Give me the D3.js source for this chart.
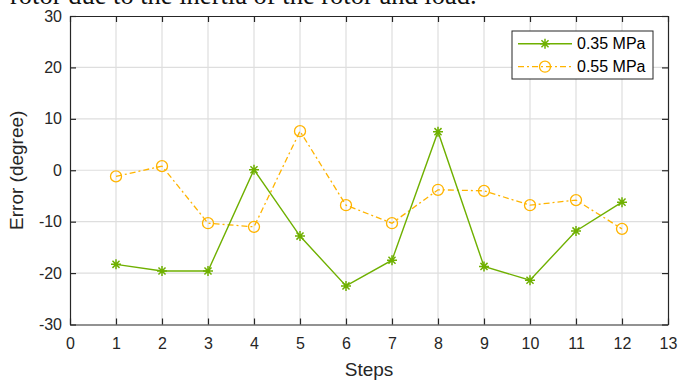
<!DOCTYPE html>
<html>
<head>
<meta charset="utf-8">
<script src="https://cdn.jsdelivr.net/npm/d3@7"></script>
<style>
  body { margin: 0; background: #fff; }
  svg { display: block; }
</style>
</head>
<body>
<svg id="chart" width="678" height="380"></svg>
<script>
  // data
  var steps = [1, 2, 3, 4, 5, 6, 7, 8, 9, 10, 11, 12];
  var err035 = [-18.3, -19.6, -19.6, 0.1, -12.8, -22.5, -17.5, 7.5, -18.7, -21.4, -11.8, -6.2];
  var err055 = [-1.2, 0.8, -10.3, -11.0, 7.6, -6.8, -10.3, -3.8, -4.0, -6.8, -5.8, -11.4];
  var xTicks = d3.range(0, 14);
  var yTicks = [-30, -20, -10, 0, 10, 20, 30];
  var seriesNames = ["0.35 MPa", "0.55 MPa"];

  (function () {
    'use strict';

    var green = "#6fb000",
        orange = "#ffb400",
        axisColor = "#262626",
        gridColor = "#dedede";

    var svg = d3.select("#chart");
    var pLeft = 70, pRight = 668, pTop = 16, pBottom = 324.5;

    var x = d3.scaleLinear().domain([0, 13]).range([pLeft, pRight]);
    var y = d3.scaleLinear().domain([-30, 30]).range([pBottom, pTop]);

    // bit of the caption above the figure, cut off in the source
    svg.append("text")
      .attr("x", 10).attr("y", 4)
      .attr("font-family", "Liberation Serif, Times New Roman, serif")
      .attr("font-size", 26.5)
      .attr("fill", "#111")
      .text("rotor due to the inertia of the rotor and load.");

    // grid
    var grid = svg.append("g");
    grid.selectAll(".vg").data(xTicks.slice(1, -1)).enter().append("line")
      .attr("x1", function(d) { return x(d); }).attr("x2", function(d) { return x(d); })
      .attr("y1", pTop).attr("y2", pBottom)
      .attr("stroke", gridColor).attr("stroke-width", 1.2);
    grid.selectAll(".hg").data(yTicks.slice(1, -1)).enter().append("line")
      .attr("y1", function(d) { return y(d); }).attr("y2", function(d) { return y(d); })
      .attr("x1", pLeft).attr("x2", pRight)
      .attr("stroke", gridColor).attr("stroke-width", 1.2);

    // axes, ticks pointing inward
    var plain = function(d) { return String(d); };
    function styleAxis(g) {
      g.select(".domain").attr("stroke", axisColor).attr("stroke-width", 1.2);
      g.selectAll(".tick line").attr("stroke", axisColor).attr("stroke-width", 1.2);
      g.selectAll(".tick text").attr("fill", axisColor)
        .attr("font-family", "Liberation Sans, Arial, sans-serif").attr("font-size", 16);
    }
    svg.append("g").attr("transform", "translate(0," + pBottom + ")")
      .call(d3.axisBottom(x).tickValues(xTicks).tickFormat(plain).tickSize(-6).tickSizeOuter(0).tickPadding(13))
      .call(styleAxis);
    svg.append("g").attr("transform", "translate(0," + pTop + ")")
      .call(d3.axisTop(x).tickValues(xTicks).tickSize(-6).tickSizeOuter(0).tickFormat(""))
      .call(styleAxis);
    svg.append("g").attr("transform", "translate(" + pLeft + ",0)")
      .call(d3.axisLeft(y).tickValues(yTicks).tickFormat(plain).tickSize(-6).tickSizeOuter(0).tickPadding(8))
      .call(styleAxis);
    svg.append("g").attr("transform", "translate(" + pRight + ",0)")
      .call(d3.axisRight(y).tickValues(yTicks).tickSize(-6).tickSizeOuter(0).tickFormat(""))
      .call(styleAxis);

    // axis titles
    svg.append("text")
      .attr("x", (pLeft + pRight) / 2).attr("y", 376)
      .attr("text-anchor", "middle")
      .attr("font-family", "Liberation Sans, Arial, sans-serif").attr("font-size", 19)
      .attr("fill", axisColor).text("Steps");
    svg.append("text")
      .attr("transform", "translate(23," + (pTop + pBottom) / 2 + ") rotate(-90)")
      .attr("text-anchor", "middle")
      .attr("font-family", "Liberation Sans, Arial, sans-serif").attr("font-size", 19)
      .attr("fill", axisColor).text("Error (degree)");

    var line = d3.line()
      .x(function(d) { return x(d[0]); })
      .y(function(d) { return y(d[1]); });

    var pts035 = steps.map(function(s, i) { return [s, err035[i]]; });
    var pts055 = steps.map(function(s, i) { return [s, err055[i]]; });

    function asterisk(g, cx, cy, r, color) {
      var a = r * Math.SQRT1_2;
      var p = "M" + (cx - r) + "," + cy + "L" + (cx + r) + "," + cy +
              "M" + cx + "," + (cy - r) + "L" + cx + "," + (cy + r) +
              "M" + (cx - a) + "," + (cy - a) + "L" + (cx + a) + "," + (cy + a) +
              "M" + (cx - a) + "," + (cy + a) + "L" + (cx + a) + "," + (cy - a);
      g.append("path").attr("d", p).attr("stroke", color).attr("stroke-width", 1.5).attr("fill", "none");
    }

    // 0.55 MPa series
    svg.append("path").datum(pts055).attr("d", line)
      .attr("fill", "none").attr("stroke", orange).attr("stroke-width", 1.3)
      .attr("stroke-dasharray", "6,3,2,3");
    svg.append("g").selectAll("circle").data(pts055).enter().append("circle")
      .attr("cx", function(d) { return x(d[0]); })
      .attr("cy", function(d) { return y(d[1]); })
      .attr("r", 5.5).attr("fill", "none").attr("stroke", orange).attr("stroke-width", 1.3);

    // 0.35 MPa series
    svg.append("path").datum(pts035).attr("d", line)
      .attr("fill", "none").attr("stroke", green).attr("stroke-width", 1.4);
    var gm = svg.append("g");
    pts035.forEach(function(d) { asterisk(gm, x(d[0]), y(d[1]), 5, green); });

    // legend
    var lg = svg.append("g");
    lg.append("rect").attr("x", 512).attr("y", 31).attr("width", 141).attr("height", 48)
      .attr("fill", "#fff").attr("stroke", axisColor).attr("stroke-width", 1);
    var rows = [{ name: seriesNames[0], y: 43.7, color: green, dash: null, mark: "ast" },
                { name: seriesNames[1], y: 66.7, color: orange, dash: "6,3,2,3", mark: "circ" }];
    rows.forEach(function(r) {
      lg.append("line").attr("x1", 518).attr("x2", 572).attr("y1", r.y).attr("y2", r.y)
        .attr("stroke", r.color).attr("stroke-width", r.mark === "ast" ? 1.4 : 1.3)
        .attr("stroke-dasharray", r.dash);
      if (r.mark === "ast") asterisk(lg, 545, r.y, 5, r.color);
      else lg.append("circle").attr("cx", 545).attr("cy", r.y).attr("r", 5.5)
        .attr("fill", "none").attr("stroke", r.color).attr("stroke-width", 1.3);
      lg.append("text").attr("x", 577).attr("y", r.y).attr("dy", "0.35em")
        .attr("font-family", "Liberation Sans, Arial, sans-serif").attr("font-size", 16)
        .attr("fill", "#000").text(r.name);
    });
  }());
</script>
</body>
</html>
